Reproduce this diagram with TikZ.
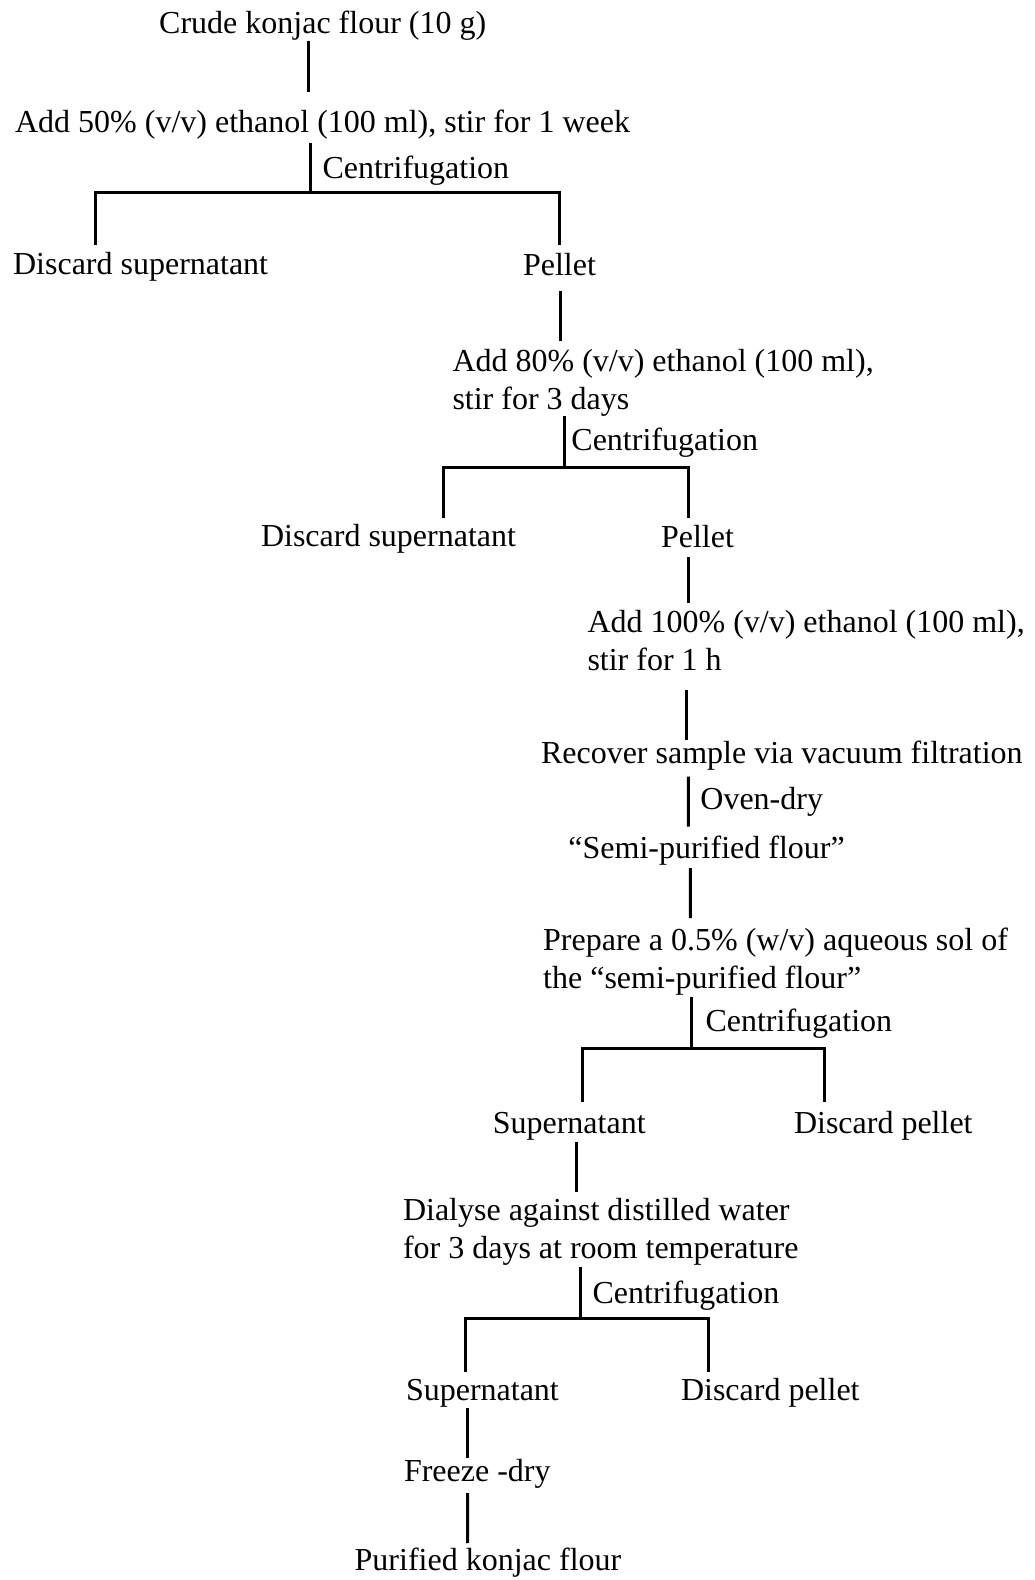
\documentclass[tikz,border=0pt]{standalone}
\usepackage{fontspec}
\setmainfont{Liberation Serif}
\begin{document}
\begin{tikzpicture}[x=1pt,y=-1pt,
  txt/.style={anchor=base west,inner sep=0pt,outer sep=0pt,align=left,
    font=\fontsize{32}{38}\selectfont},
  conn/.style={line width=3pt}]
\useasboundingbox (0,0) rectangle (1035,1580);
% nodes (multi-line nodes are placed by the baseline of their last line)
\node[txt] (crude) at (159.2,33) {Crude konjac flour (10 g)};
\node[txt] (add50) at (15.1,132) {Add 50\% (v/v) ethanol (100 ml), stir for 1 week};
\node[txt] (c1) at (322.5,178) {Centrifugation};
\node[txt] (dsup1) at (13.1,274) {Discard supernatant};
\node[txt] (pellet1) at (523,275) {Pellet};
\node[txt] (add80) at (452.5,409) {Add 80\% (v/v) ethanol (100 ml),\\stir for 3 days};
\node[txt] (c2) at (571.4,450) {Centrifugation};
\node[txt] (dsup2) at (261,546.7) {Discard supernatant};
\node[txt] (pellet2) at (661,547) {Pellet};
\node[txt] (add100) at (587.5,670.7) {Add 100\% (v/v) ethanol (100 ml),\\stir for 1 h};
\node[txt] (recover) at (541,763) {Recover sample via vacuum filtration};
\node[txt] (oven) at (700.4,809) {Oven-dry};
\node[txt] (semi) at (568.4,858) {“Semi-purified flour”};
\node[txt] (prepare) at (543.2,988) {Prepare a 0.5\% (w/v) aqueous sol of\\the “semi-purified flour”};
\node[txt] (c3) at (705.5,1031.7) {Centrifugation};
\node[txt] (super1) at (492.8,1133) {Supernatant};
\node[txt] (dpel1) at (794,1133) {Discard pellet};
\node[txt] (dialyse) at (403,1258) {Dialyse against distilled water\\for 3 days at room temperature};
\node[txt] (c4) at (592.6,1303) {Centrifugation};
\node[txt] (super2) at (406,1400) {Supernatant};
\node[txt] (dpel2) at (681,1400) {Discard pellet};
\node[txt] (freeze) at (404,1481.7) {Freeze -dry};
\node[txt] (purified) at (354.7,1570) {Purified konjac flour};
% junctions
\coordinate (f1) at (310,192.7);
\coordinate (f2) at (564.4,467.3);
\coordinate (f3) at (691.4,1048);
\coordinate (f4) at (580.5,1318);
% connectors
\draw[conn] ([shift={(148.8,8)}]crude.base west) -- ([shift={(292.9,-40)}]add50.base west);
\draw[conn] ([shift={(294.9,10.7)}]add50.base west) -- (f1);
\draw[conn] ([shift={(82.6,-29)}]dsup1.base west) |- (f1) -| ([shift={(36.3,-30)}]pellet1.base west);
\draw[conn] ([shift={(37.3,16)}]pellet1.base west) -- ([shift={(107.8,-68.3)}]add80.base west);
\draw[conn] ([shift={(111.9,6.7)}]add80.base west) -- (f2);
\draw[conn] ([shift={(182.4,-28.7)}]dsup2.base west) |- (f2) -| ([shift={(27.3,-29)}]pellet2.base west);
\draw[conn] ([shift={(27.3,10)}]pellet2.base west) -- ([shift={(100.8,-67.7)}]add100.base west);
\draw[conn] ([shift={(98.8,19.3)}]add100.base west) -- ([shift={(145.3,-23)}]recover.base west);
\draw[conn] ([shift={(147.3,13.7)}]recover.base west) -- ([shift={(119.9,-31.3)}]semi.base west);
\draw[conn] ([shift={(121.9,10)}]semi.base west) -- ([shift={(147.1,-70)}]prepare.base west);
\draw[conn] ([shift={(148.2,8.7)}]prepare.base west) -- (f3);
\draw[conn] ([shift={(89.7,-31.3)}]super1.base west) |- (f3) -| ([shift={(30.4,-31.3)}]dpel1.base west);
\draw[conn] ([shift={(83.7,8.7)}]super1.base west) -- ([shift={(173.5,-66.3)}]dialyse.base west);
\draw[conn] ([shift={(177.5,8.7)}]dialyse.base west) -- (f4);
\draw[conn] ([shift={(59.6,-28.3)}]super2.base west) |- (f4) -| ([shift={(27.5,-28.3)}]dpel2.base west);
\draw[conn] ([shift={(61.6,8)}]super2.base west) -- ([shift={(63.6,-23.7)}]freeze.base west);
\draw[conn] ([shift={(63.6,11.3)}]freeze.base west) -- ([shift={(112.9,-27)}]purified.base west);
\end{tikzpicture}
\end{document}
